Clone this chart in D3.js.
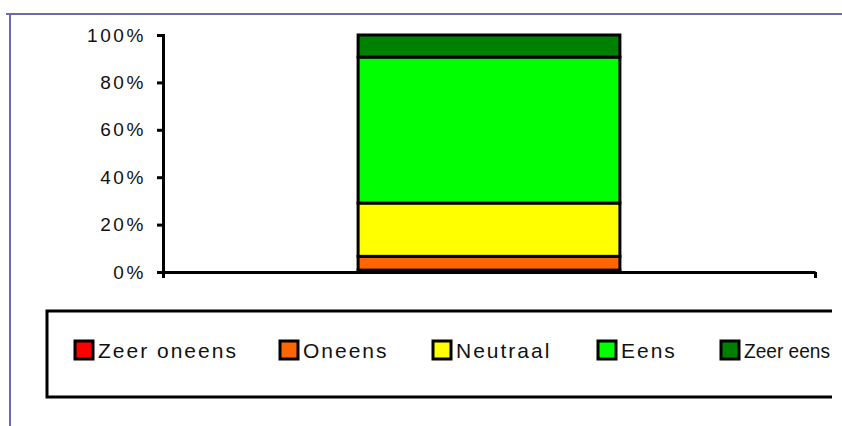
<!DOCTYPE html>
<html>
<head>
<meta charset="utf-8">
<script src="https://cdn.jsdelivr.net/npm/d3@7"></script>
<style>
  body { margin: 0; background: #fff; }
  text { font-family: "Liberation Sans", Arial, sans-serif; fill: #111; }
</style>
</head>
<body>
<div id="chart"></div>
<script>
// data (percent of answers)
var categories = ["vraag"];
var seriesNames = ["Zeer oneens", "Oneens", "Neutraal", "Eens", "Zeer eens"];
var seriesValues = [0.8, 5.8, 22.5, 61.6, 9.3];
var seriesColors = ["#ff0000", "#ff6600", "#ffff00", "#00ff00", "#008000"];
var yTicks = [0, 0.2, 0.4, 0.6, 0.8, 1];

var W = 842, H = 426;
var margin = {top: 35, left: 163, right: 27, bottom: 154};
var width = W - margin.left - margin.right,
    height = H - margin.top - margin.bottom;

var svg = d3.select("#chart")
  .append("svg")
    .attr("width", W)
    .attr("height", H);

// outer frame (only top and left visible)
svg.append("line").attr("x1", 6).attr("x2", W).attr("y1", 14).attr("y2", 14)
  .attr("stroke", "#6b6ba6").attr("stroke-width", 2);
svg.append("line").attr("x1", 10).attr("x2", 10).attr("y1", 14).attr("y2", H)
  .attr("stroke", "#6b6ba6").attr("stroke-width", 2);

var g = svg.append("g")
  .attr("transform", "translate(" + margin.left + "," + margin.top + ")");

// build one row for the stack
var row = {};
seriesNames.forEach(function(n, i) { row[n] = seriesValues[i] / 100; });
row.cat = categories[0];
var stacked = d3.stack().keys(seriesNames)([row]);

var x = d3.scaleBand().domain(categories).range([0, width]).padding(0.427);
var y = d3.scaleLinear().domain([0, 1]).range([height, 0]);
var color = d3.scaleOrdinal().domain(seriesNames).range(seriesColors);

// bars
g.append("g").selectAll("g")
  .data(stacked)
  .enter().append("g")
    .attr("fill", function(d) { return color(d.key); })
  .selectAll("rect")
  .data(function(d) { return d; })
  .enter().append("rect")
    .attr("x", function(d) { return x(d.data.cat); })
    .attr("y", function(d) { return y(d[1]); })
    .attr("width", x.bandwidth())
    .attr("height", function(d) { return y(d[0]) - y(d[1]); })
    .attr("stroke", "#000")
    .attr("stroke-width", 3);

// y axis
var yAxis = g.append("g")
  .call(d3.axisLeft(y).tickValues(yTicks).tickFormat(d3.format(".0%")).tickSize(6).tickPadding(11));
yAxis.selectAll("path, line").attr("stroke", "#000").attr("stroke-width", 3);
yAxis.selectAll("text")
  .style("font-size", "19px")
  .style("letter-spacing", "2.6px")
  .attr("fill", "#111");

// x axis: category boundaries
var xl = d3.scaleLinear().domain([0, 1]).range([0, width]);
var xAxis = g.append("g")
  .attr("transform", "translate(0," + height + ")")
  .call(d3.axisBottom(xl).tickValues([0, 1]).tickSize(6).tickSizeOuter(0).tickFormat(""));
xAxis.selectAll("path, line").attr("stroke", "#000").attr("stroke-width", 3);

// legend box runs off the right edge like the picture
svg.append("clipPath").attr("id", "legclip")
  .append("rect").attr("x", 0).attr("y", 0).attr("width", 832).attr("height", H);

var leg = svg.append("g");
leg.append("rect")
  .attr("clip-path", "url(#legclip)")
  .attr("x", 47).attr("y", 311)
  .attr("width", 820).attr("height", 86)
  .attr("fill", "none").attr("stroke", "#000").attr("stroke-width", 3);

var legX = [75, 280, 433, 598, 721];
var items = leg.selectAll("g.item")
  .data(seriesNames)
  .enter().append("g")
    .attr("class", "item")
    .attr("transform", function(d, i) { return "translate(" + legX[i] + ",341)"; });
items.append("rect")
  .attr("width", 18).attr("height", 18)
  .attr("fill", function(d) { return color(d); })
  .attr("stroke", "#000").attr("stroke-width", 3);
items.append("text")
  .attr("x", 23).attr("y", 17)
  .style("font-size", "21px")
  .style("letter-spacing", "2px")
  .text(function(d) { return d; })
  .each(function(d, i) {
    // squeeze the last label so it stays inside the page
    var room = 830 - legX[i] - 23;
    if (this.getComputedTextLength() > room) {
      d3.select(this).style("letter-spacing", "0px")
        .attr("textLength", room).attr("lengthAdjust", "spacingAndGlyphs");
    }
  });
</script>
</body>
</html>
